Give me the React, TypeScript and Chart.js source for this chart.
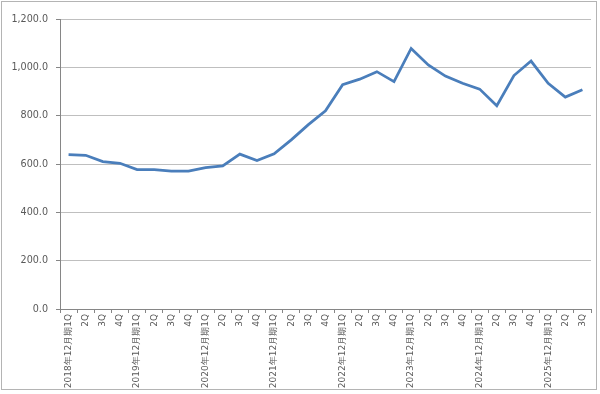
import React, { useEffect, useRef } from "react";
import { Chart, registerables } from "chart.js";

Chart.register(...registerables);

const years = ["2018", "2019", "2020", "2021", "2022", "2023", "2024", "2025"];
const quarters = ["1Q", "2Q", "3Q", "4Q"];
const categories: string[] = [];
years.forEach((y) => {
  quarters.forEach((q) => {
    if (y === "2025" && q === "4Q") return;
    categories.push(q === "1Q" ? `${y}年12月期1Q` : q);
  });
});

const values = [
  639, 636, 610, 603,
  577, 577, 571, 571,
  585, 592, 641, 614,
  642, 700, 763, 820,
  928, 951, 982, 941,
  1078, 1010, 964, 934,
  910, 841, 966, 1026,
  934, 877, 907,
];

const yTicks = [0, 200, 400, 600, 800, 1000, 1200];

const borderPlugin = {
  id: "outerBorder",
  beforeDraw(chart: any) {
    const ctx = chart.ctx;
    ctx.save();
    ctx.fillStyle = "#ffffff";
    ctx.fillRect(0, 0, chart.width, chart.height);
    ctx.strokeStyle = "#b4b4b4";
    ctx.lineWidth = 1;
    ctx.strokeRect(1.5, 1.5, 595, 388);
    ctx.restore();
  },
};

export default function App() {
  const ref = useRef<HTMLCanvasElement>(null);
  useEffect(() => {
    if (!ref.current) return;
    const chart = new Chart(ref.current, {
      type: "line",
      data: {
        labels: categories,
        datasets: [
          {
            data: values,
            borderColor: "#4a7ebb",
            borderWidth: 2.75,
            pointRadius: 0,
            tension: 0,
            fill: false,
          },
        ],
      },
      options: {
        animation: false,
        responsive: false,
        maintainAspectRatio: false,
        layout: { padding: { top: 19, right: 9, left: 0, bottom: 0 } },
        plugins: { legend: { display: false }, tooltip: { enabled: false } },
        scales: {
          x: {
            offset: true,
            grid: {
              offset: true,
              drawOnChartArea: false,
              tickLength: 4,
              color: "#868686",
            },
            border: { display: true, color: "#868686", width: 1 },
            ticks: {
              autoSkip: false,
              maxRotation: 90,
              minRotation: 90,
              padding: 1,
              color: "#595959",
              font: { family: "'DejaVu Sans', Verdana, sans-serif", size: 9 },
            },
            afterFit(scale: any) {
              scale.height = 394 - 309;
            },
          },
          y: {
            min: 0,
            max: 1200,
            afterBuildTicks(scale: any) {
              scale.ticks = yTicks.map((v) => ({ value: v }));
            },
            grid: {
              color: "#bfbfbf",
              tickLength: 4,
              tickColor: "#868686",
            },
            border: { display: true, color: "#868686", width: 1 },
            ticks: {
              padding: 8,
              color: "#595959",
              font: { family: "'DejaVu Sans', Verdana, sans-serif", size: 9.6 },
              callback: (v: any) =>
                Number(v).toLocaleString("en-US", {
                  minimumFractionDigits: 1,
                  maximumFractionDigits: 1,
                }),
            },
            afterFit(scale: any) {
              scale.width = 60;
            },
          },
        },
      },
      plugins: [borderPlugin],
    });
    return () => chart.destroy();
  }, []);
  return (
    <div style={{ position: "fixed", left: 0, top: 0, width: 600, height: 394 }}>
      <canvas ref={ref} width={600} height={394} style={{ width: 600, height: 394, display: "block" }} />
    </div>
  );
}
